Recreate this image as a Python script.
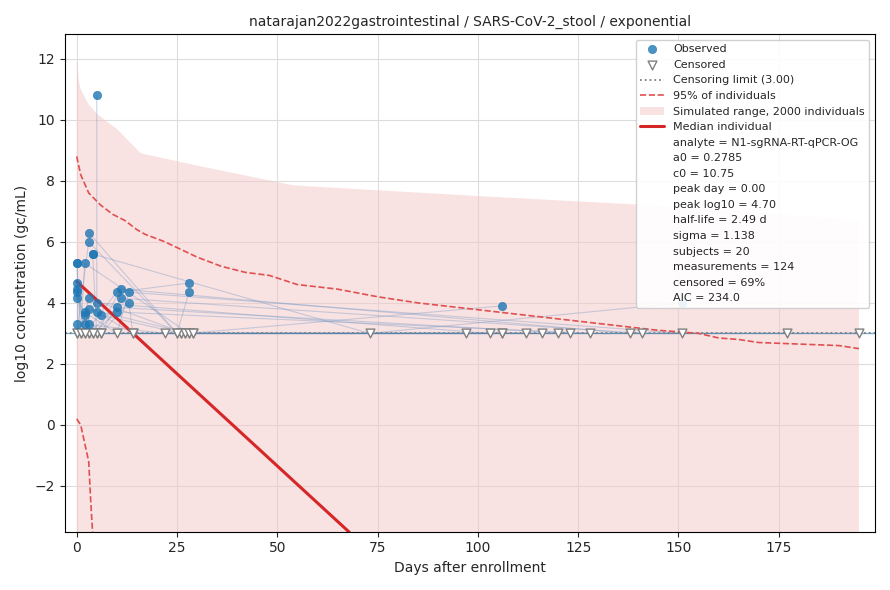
import numpy as np, pandas as pd, seaborn as sns, matplotlib
matplotlib.use("Agg")
import matplotlib.pyplot as plt

sns.set_style("white")
plt.rcParams['font.family'] = ['DejaVu Sans']

obs_subject = [1,2,3,4,5,6,7,2,8,9,10,11,12,13,14,15,16,17,18,18,19,20,3,4,5,6,7,8,9,3,11,14,16]
obs_day = [0,0,0,0,0,0,0,2,2,2,2,3,3,3,3,3,4,4,5,5,5,6,10,10,10,11,11,13,13,28,28,106,151]
obs_val = [5.3,5.3,4.65,4.45,4.35,4.15,3.3,5.3,3.7,3.6,3.3,6.3,6.0,4.15,3.8,3.3,5.6,5.6,10.8,4.0,3.7,3.6,4.35,3.85,3.7,4.45,4.15,4.35,4.0,4.65,4.35,3.9,4.0]
cen_subject = [1,2,3,4,5,6,7,8,9,10,11,12,13,14,15,16,17,18,19,20,1,2,4,5,6,7,8,9,10,12,13,15,17,19,20,1,2,5,7,9,12,13,15]
cen_day = [0,1,2,3,4,5,6,10,14,22,25,26,27,28,29,73,97,103,106,112,116,120,123,128,138,141,151,177,195,0,1,3,5,14,26,27,28,2,4,6,25,29,106]
limit = 3.0
med_day = [0, 68]
half_life = 2.49
med_peak = 4.70
lo_day = [0, 1, 2, 3, 3.5, 4]
lo_val = [0.2, 0.0, -0.6, -1.2, -2.5, -3.6]
up_day = [0, 1, 3, 6, 9, 12, 15, 17, 22, 30, 36, 42, 48, 55, 65, 75, 85, 95, 105, 115, 125, 135, 145, 155, 160, 165, 170, 180, 190, 195]
up_val = [8.8, 8.2, 7.6, 7.2, 6.9, 6.7, 6.4, 6.25, 6.0, 5.5, 5.2, 5.0, 4.9, 4.6, 4.45, 4.2, 4.0, 3.85, 3.7, 3.55, 3.4, 3.25, 3.1, 3.0, 2.85, 2.8, 2.7, 2.65, 2.6, 2.5]
fill_day = [0, 0.5, 1, 3, 5, 10, 16, 30, 54, 100, 150, 195]
fill_hi = [12.0, 11.3, 11.0, 10.5, 10.2, 9.7, 8.9, 8.5, 7.85, 7.5, 7.15, 6.7]

df_o = pd.DataFrame(dict(s=obs_subject, d=obs_day, v=obs_val, c=False))
df_c = pd.DataFrame(dict(s=cen_subject, d=cen_day, v=limit, c=True))
df = pd.concat([df_o, df_c])

fig, ax = plt.subplots(figsize=(8.9, 5.9), dpi=100)
ax.grid(True, color='#dddddd', lw=0.8)
ax.set_axisbelow(True)
ax.fill_between(fill_day, [-10]*len(fill_day), fill_hi, color='#f4c6c6', alpha=0.5, lw=0, label='Simulated range, 2000 individuals')
for s, g in df.sort_values('d').groupby('s'):
    ax.plot(g['d'], g['v'], color='#7a9cc6', lw=0.8, alpha=0.4)
ax.axhline(limit, color='#1f77b4', lw=1, alpha=0.6)
sns.scatterplot(data=df_o, x='d', y='v', ax=ax, color='#1f77b4', alpha=0.8, s=36, edgecolor='#1f77b4', label='Observed', zorder=4)
ax.scatter(df_c['d'], df_c['v'], marker='v', facecolor='white', edgecolor='gray', s=40, label='Censored', zorder=3)
ax.axhline(limit, color='gray', ls=':', lw=1.3, label='Censoring limit (3.00)')
ax.plot(up_day, up_val, color='#e05050', ls='--', lw=1.2, label='95% of individuals')
ax.plot(lo_day, lo_val, color='#e05050', ls='--', lw=1.2)
md = np.array(med_day, dtype=float)
ax.plot(md, med_peak - np.log10(2)/half_life*md, color='#d62728', lw=2.2, label='Median individual')
extra = ['analyte = N1-sgRNA-RT-qPCR-OG', 'a0 = 0.2785', 'c0 = 10.75', 'peak day = 0.00', 'peak log10 = 4.70',
         'half-life = 2.49 d', 'sigma = 1.138', 'subjects = 20', 'measurements = 124', 'censored = 69%', 'AIC = 234.0']
for t in extra:
    ax.plot([], [], ' ', label=t)
h, l = ax.get_legend_handles_labels()
order = ['Observed', 'Censored', 'Censoring limit (3.00)', '95% of individuals', 'Simulated range, 2000 individuals', 'Median individual'] + extra
hd = dict(zip(l, h))
ax.legend([hd[k] for k in order], order, loc='upper right', fontsize=8, framealpha=0.9, handlelength=2.2)
ax.set_xlim(-3, 199)
ax.set_ylim(-3.5, 12.8)
ax.set_xlabel('Days after enrollment')
ax.set_ylabel('log10 concentration (gc/mL)')
ax.set_title('natarajan2022gastrointestinal / SARS-CoV-2_stool / exponential', fontsize=10)
for sp in ax.spines.values():
    sp.set_visible(True); sp.set_color('black'); sp.set_linewidth(0.8)
ax.tick_params(left=True, bottom=True)
fig.tight_layout()
fig.savefig('out.png')
